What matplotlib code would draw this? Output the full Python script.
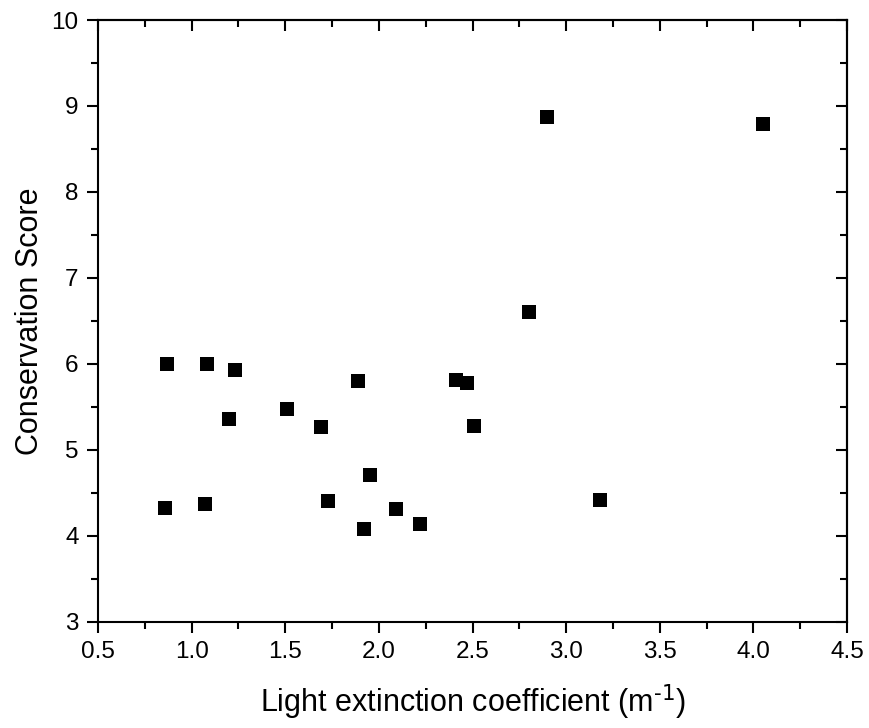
import numpy as np
import matplotlib
matplotlib.use('Agg')
import matplotlib.pyplot as plt
from matplotlib.ticker import MultipleLocator

plt.rcParams['font.family'] = ['Liberation Sans', 'DejaVu Sans']
plt.rcParams['mathtext.default'] = 'regular'

# light extinction coefficient (m^-1) vs conservation score
extinction = [0.87, 1.08, 1.23, 1.20, 1.51, 1.69, 1.89, 2.41, 2.47, 2.51,
              2.80, 2.90, 4.05, 0.86, 1.07, 1.73, 1.92, 1.95, 2.09, 2.22, 3.18]
score = [6.00, 6.00, 5.93, 5.36, 5.47, 5.27, 5.80, 5.81, 5.78, 5.28,
         6.60, 8.87, 8.79, 4.32, 4.37, 4.40, 4.08, 4.71, 4.31, 4.14, 4.42]

fig = plt.figure(figsize=(8.69, 7.28), dpi=100, facecolor='white')
ax = fig.add_axes([0.1128, 0.146, 0.862, 0.8265])

ax.scatter(extinction, score, marker='s', s=100, color='black', linewidths=0, zorder=3)

ax.set_xlim(0.5, 4.5)
ax.set_ylim(3, 10)
ax.xaxis.set_major_locator(MultipleLocator(0.5))
ax.xaxis.set_minor_locator(MultipleLocator(0.25))
ax.yaxis.set_major_locator(MultipleLocator(1))
ax.yaxis.set_minor_locator(MultipleLocator(0.5))
ax.xaxis.set_major_formatter(matplotlib.ticker.FormatStrFormatter('%.1f'))

for s in ax.spines.values():
    s.set_linewidth(1.5)

ax.tick_params(which='both', direction='out', width=1.5, labelsize=17.5,
               top=False, right=False, pad=6)
ax.tick_params(which='major', length=8)
ax.tick_params(which='minor', length=5)

# inward ticks on the top and right sides
sec_x = ax.secondary_xaxis('top')
sec_x.xaxis.set_major_locator(MultipleLocator(0.5))
sec_x.xaxis.set_minor_locator(MultipleLocator(0.25))
sec_x.tick_params(which='both', direction='in', width=1.5, labeltop=False)
sec_x.tick_params(which='major', length=8)
sec_x.tick_params(which='minor', length=5)
sec_x.spines['top'].set_linewidth(1.5)
sec_y = ax.secondary_yaxis('right')
sec_y.yaxis.set_major_locator(MultipleLocator(1))
sec_y.yaxis.set_minor_locator(MultipleLocator(0.5))
sec_y.tick_params(which='both', direction='in', width=1.5, labelright=False)
sec_y.tick_params(which='major', length=8)
sec_y.tick_params(which='minor', length=5)
sec_y.spines['right'].set_linewidth(1.5)

ax.set_xlabel(r'Light extinction coefficient (m$^{\text{-1}}$)', fontsize=22, labelpad=14)
ax.set_ylabel('Conservation Score', fontsize=22, labelpad=5)

fig.savefig('out.png', dpi=100, facecolor='white')
